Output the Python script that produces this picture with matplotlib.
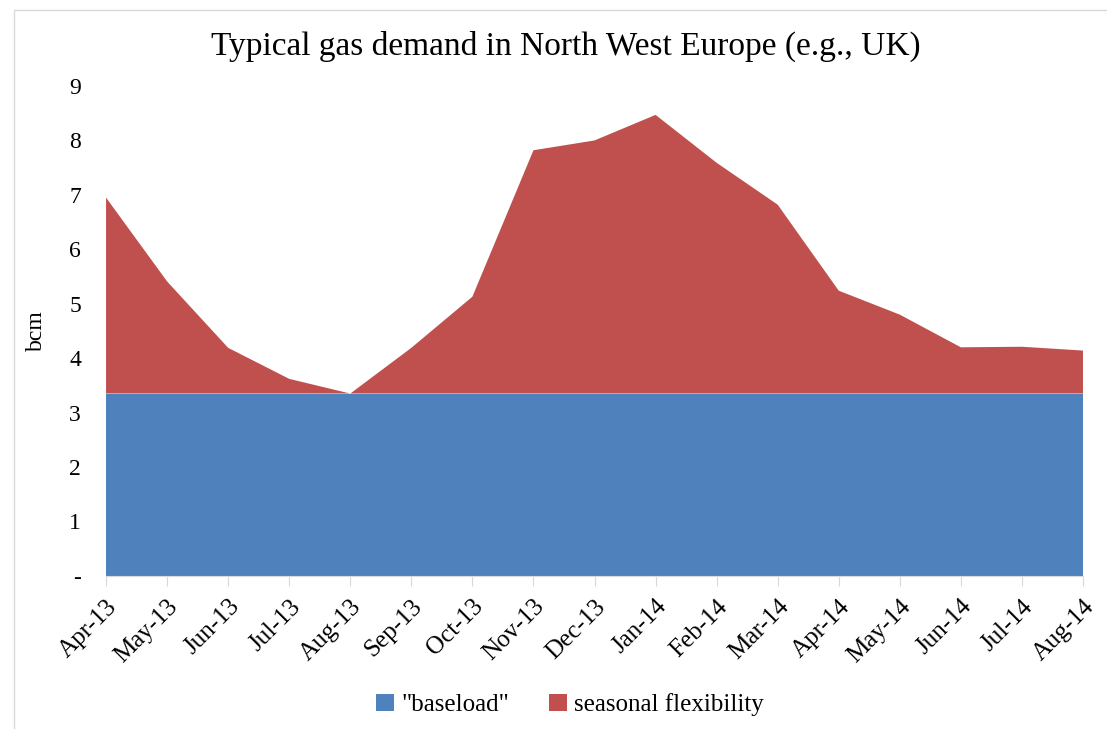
import numpy as np
import matplotlib
matplotlib.use("Agg")
import matplotlib.pyplot as plt
from matplotlib.patches import Rectangle, Patch

months = ["Apr-13", "May-13", "Jun-13", "Jul-13", "Aug-13", "Sep-13", "Oct-13",
          "Nov-13", "Dec-13", "Jan-14", "Feb-14", "Mar-14", "Apr-14", "May-14",
          "Jun-14", "Jul-14", "Aug-14"]
total_demand = [6.95, 5.41, 4.19, 3.62, 3.35, 4.19, 5.13, 7.82, 8.00, 8.47,
                7.59, 6.82, 5.24, 4.80, 4.20, 4.21, 4.14]
baseload_level = 3.35
y_ticks = [0, 1, 2, 3, 4, 5, 6, 7, 8, 9]
y_ticklabels = ["-", "1", "2", "3", "4", "5", "6", "7", "8", "9"]

BLUE = "#4f81bd"
RED = "#c0504d"
FONT = "Liberation Serif"

plt.rcParams["font.family"] = [FONT, "DejaVu Serif"]

x = np.arange(len(months))
baseload = np.full(len(months), baseload_level)
flex = np.array(total_demand) - baseload

fig = plt.figure(figsize=(11.07, 7.29), dpi=100)
ax = fig.add_axes([0.0958, 0.21, 0.8825, 0.672])

ax.stackplot(x, baseload, flex, colors=[BLUE, RED], linewidth=0)

ax.set_xlim(0, len(months) - 1)
ax.set_ylim(0, 9)
ax.set_yticks(y_ticks)
ax.set_yticklabels(y_ticklabels, fontsize=17)
ax.tick_params(axis="y", length=0, pad=18)
ax.set_xticks(x)
ax.set_xticklabels(months, rotation=45, ha="right", rotation_mode="anchor", fontsize=18)
ax.tick_params(axis="x", length=7, color="#d9d9d9", pad=7)

for side in ["top", "right", "left"]:
    ax.spines[side].set_visible(False)
ax.spines["bottom"].set_color("#d9d9d9")

ax.set_ylabel("bcm", fontsize=17, labelpad=16)
fig.text(0.511, 0.936, "Typical gas demand in North West Europe (e.g., UK)",
         ha="center", va="center", fontsize=24)

handles = [Patch(facecolor=BLUE, label='"baseload"'),
           Patch(facecolor=RED, label="seasonal flexibility")]
fig.legend(handles=handles, loc="center", bbox_to_anchor=(0.515, 0.033), ncol=2,
           frameon=False, fontsize=18, handlelength=0.7, handleheight=0.7,
           handletextpad=0.3, columnspacing=1.6)

# chart border
fig.patches.append(Rectangle((14 / 1107, -0.05), 1.2, 1 - 10 / 729 + 0.05,
                             transform=fig.transFigure, fill=False,
                             edgecolor="#d9d9d9", linewidth=1))

fig.savefig("out.png", dpi=100)
